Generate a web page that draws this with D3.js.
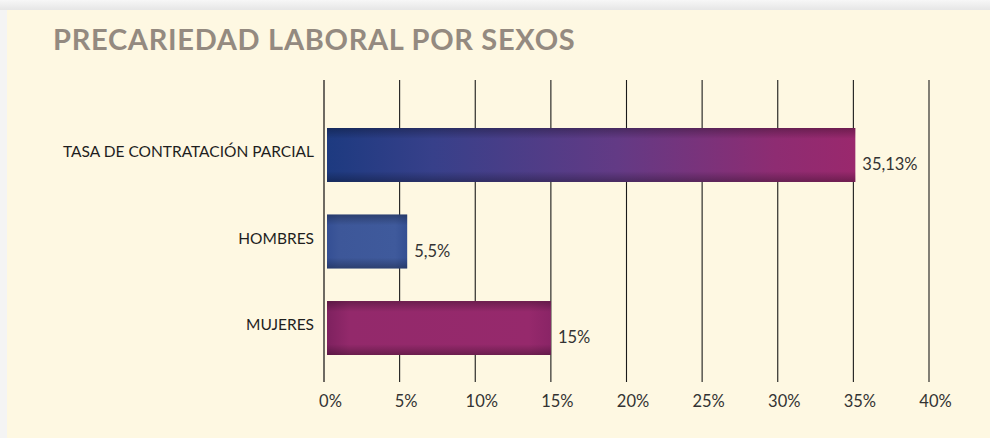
<!DOCTYPE html>
<html><head><meta charset="utf-8">
<script src="https://cdn.jsdelivr.net/npm/d3@7"></script>
<style>
html,body{margin:0;padding:0;background:#f4f4f4;}
svg{display:block;}
</style></head>
<body>
<svg id="c" width="990" height="438"></svg>
<script>
const title = "PRECARIEDAD LABORAL POR SEXOS";
const categories = ["TASA DE CONTRATACIÓN PARCIAL", "HOMBRES", "MUJERES"];
const values = [35.13, 5.5, 15];
const valueLabels = ["35,13%", "5,5%", "15%"];
const ticks = [0, 5, 10, 15, 20, 25, 30, 35, 40];
const tickLabels = ["0%", "5%", "10%", "15%", "20%", "25%", "30%", "35%", "40%"];

const svg = d3.select("#c");
const defs = svg.append("defs");

// outer shadow + panel
const sh = defs.append("linearGradient").attr("id","topsh").attr("x1",0).attr("y1",0).attr("x2",0).attr("y2",1);
sh.append("stop").attr("offset",0).attr("stop-color","#f7f7f7");
sh.append("stop").attr("offset",1).attr("stop-color","#e6e6e6");
svg.append("rect").attr("x",0).attr("y",0).attr("width",990).attr("height",10).attr("fill","url(#topsh)");
svg.append("rect").attr("x",7).attr("y",10).attr("width",983).attr("height",428).attr("fill","#fef8e2");

svg.append("text").attr("x",53).attr("y",50).text(title)
  .attr("font-family","Lato").attr("font-weight","bold").attr("font-size",29)
  .attr("fill","#948a80").attr("letter-spacing",0.7);

const x = d3.scaleLinear().domain([0,40]).range([324,929]);
const y = d3.scaleBand().domain(categories).range([128,355]).paddingInner(0.376).paddingOuter(0);

// gridlines
svg.append("g").selectAll("line").data(ticks).join("line")
  .attr("x1",d=>x(d)).attr("x2",d=>x(d)).attr("y1",80).attr("y2",382)
  .attr("stroke",d=>d===0?"#6e6a62":"#1a1a1a").attr("stroke-width",d=>d===0?2:1.1);

// axis tick labels
const ax = d3.axisBottom(x).tickValues(ticks).tickFormat((d,i)=>tickLabels[i]).tickSize(0).tickPadding(0);
const axg = svg.append("g").attr("transform","translate(0,407)").call(ax);
axg.select(".domain").remove();
axg.selectAll("text").attr("font-family","Lato").attr("font-size",16.5).attr("fill","#333").attr("dy",0).attr("dx",6);

// gradients
const g1 = defs.append("linearGradient").attr("id","g1");
[["0","#1d3a80"],["0.2","#37408a"],["0.55","#633a85"],["0.85","#8e2c72"],["1","#9a286d"]]
  .forEach(([o,c])=>g1.append("stop").attr("offset",o).attr("stop-color",c));
const g2 = defs.append("linearGradient").attr("id","g2");
[["0","#344f94"],["0.15","#3d5799"],["0.85","#3f5a9c"],["1","#344f92"]].forEach(([o,c])=>g2.append("stop").attr("offset",o).attr("stop-color",c));
const g3 = defs.append("linearGradient").attr("id","g3");
[["0","#7e215f"],["0.1","#93296b"],["0.9","#96296c"],["1","#8a2466"]].forEach(([o,c])=>g3.append("stop").attr("offset",o).attr("stop-color",c));
const fills = ["url(#g1)","url(#g2)","url(#g3)"];
const vg = defs.append("linearGradient").attr("id","vsh").attr("x1",0).attr("y1",0).attr("x2",0).attr("y2",1);
[["0",0.28],["0.2",0],["0.8",0],["1",0.28]].forEach(([o,a])=>vg.append("stop").attr("offset",o).attr("stop-color","#000").attr("stop-opacity",a));

const bars = svg.append("g");
bars.selectAll("rect.b").data(values).join("rect").attr("class","b")
  .attr("x",x(0)+3).attr("y",(d,i)=>y(categories[i]))
  .attr("width",d=>x(d)-x(0)-3).attr("height",y.bandwidth())
  .attr("fill",(d,i)=>fills[i]);
bars.selectAll("rect.s").data(values).join("rect").attr("class","s")
  .attr("x",x(0)+3).attr("y",(d,i)=>y(categories[i]))
  .attr("width",d=>x(d)-x(0)-3).attr("height",y.bandwidth())
  .attr("fill","url(#vsh)");

// category labels
svg.append("g").selectAll("text").data(categories).join("text")
  .attr("x",314).attr("y",d=>y(d)+y.bandwidth()/2+2).attr("text-anchor","end")
  .attr("font-family","Lato").attr("font-size",15.5).attr("fill","#1e1e1e").text(d=>d);

// value labels
svg.append("g").selectAll("text").data(values).join("text")
  .attr("x",d=>x(d)+7).attr("y",(d,i)=>y(categories[i])+y.bandwidth()/2+15)
  .attr("font-family","Lato").attr("font-size",16.5).attr("fill","#333").text((d,i)=>valueLabels[i]);
</script>
</body></html>
